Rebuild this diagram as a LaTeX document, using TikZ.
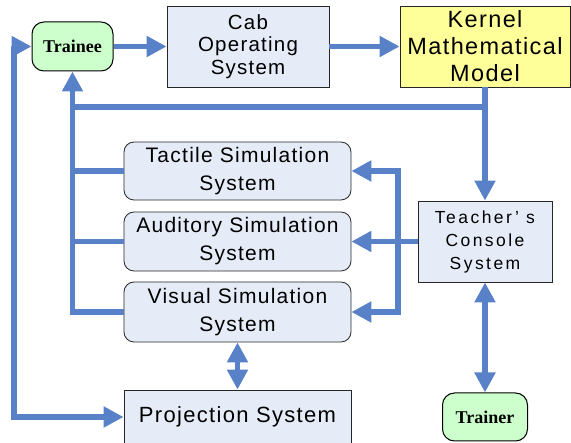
\documentclass[tikz,border=0pt]{standalone}
\usepackage{fontspec}
\setmainfont{Liberation Sans}
\newfontfamily\boxfont[LetterSpace=6]{Liberation Sans}
\newfontfamily\wideboxfont[LetterSpace=14]{Liberation Sans}
\newfontfamily\personfont{Liberation Serif}
\usetikzlibrary{arrows.meta}
\definecolor{linkblue}{HTML}{5881C8}
\definecolor{boxfill}{HTML}{E6ECF7}
\definecolor{kernfill}{HTML}{FFFF99}
\definecolor{personfill}{HTML}{CCFFCC}
\begin{document}
\begin{tikzpicture}[x=1pt,y=-1pt,
 sysbox/.style={draw=black!85, line width=0.8pt, fill=boxfill, align=center, inner sep=0pt},
 simbox/.style={sysbox, rounded corners=10pt, minimum width=227pt, minimum height=59pt, font=\boxfont\fontsize{21}{28}\selectfont},
 person/.style={draw=black, line width=1pt, fill=personfill, rounded corners=12pt, inner sep=0pt, font=\personfont\bfseries\fontsize{18}{18}\selectfont},
 link/.style={draw=linkblue, line width=5.8pt},
 flow/.style={link, -{Triangle[length=20pt,width=20pt]}},
 twoway/.style={link, {Triangle[length=20pt,width=20pt]}-{Triangle[length=20pt,width=20pt]}},
]
\useasboundingbox (0,0) rectangle (571,443);

\node[person, minimum width=81pt, minimum height=49pt] (trainee) at (72.5,46.5) {Trainee};
\node[sysbox, minimum width=162pt, minimum height=81pt, font=\boxfont\fontsize{20.5}{22.5}\selectfont] (cab) at (248,46.5) {Cab\\Operating\\System};
\node[sysbox, fill=kernfill, minimum width=170pt, minimum height=81pt, font=\boxfont\fontsize{23.5}{27}\selectfont] (kernel) at (485,46.5) {Kernel\\Mathematical\\Model};
\node[sysbox, minimum width=134pt, minimum height=81pt, font=\wideboxfont\fontsize{17.5}{23}\selectfont] (teacher) at (485,241.5) {Teacher’ s\\Console\\System};
\node[simbox, minimum height=58pt] (tactile) at (237.5,171) {Tactile Simulation\\System};
\node[simbox] (auditory) at (237.5,241.5) {Auditory Simulation\\System};
\node[simbox, minimum height=60pt] (visual) at (237.5,312) {Visual Simulation\\System};
\node[sysbox, minimum width=227pt, minimum height=54pt, font=\boxfont\fontsize{22}{24}\selectfont] (projection) at (237.5,417) {Projection System};
\node[person, minimum width=85pt, minimum height=48pt] (trainer) at (485,417) {Trainer};

\coordinate (fb) at (0,107);
\coordinate (bus) at (398,0);
\coordinate (outer) at (14,0);

\draw[flow] (trainee.east) -- (cab.west);
\draw[flow] (cab.east) -- (kernel.west);
\draw[flow] (kernel.south) -- (teacher.north);
\draw[link] (kernel.south |- fb) -- (trainee.south |- fb);
\draw[flow] (visual.west) -- (visual.west -| trainee.south) -- (trainee.south);
\draw[link] (tactile.west) -- (tactile.west -| trainee.south);
\draw[link] (auditory.west) -- (auditory.west -| trainee.south);
\draw[flow] (teacher.west) -- (auditory.east);
\draw[twoway] (tactile.east) -- (tactile.east -| bus) -- (visual.east -| bus) -- (visual.east);
\draw[twoway] (visual.south) -- (projection.north);
\draw[twoway] (teacher.south) -- (trainer.north);
\draw[twoway] (trainee.west) -- (trainee.west -| outer) -- (projection.west -| outer) -- (projection.west);
\end{tikzpicture}
\end{document}
